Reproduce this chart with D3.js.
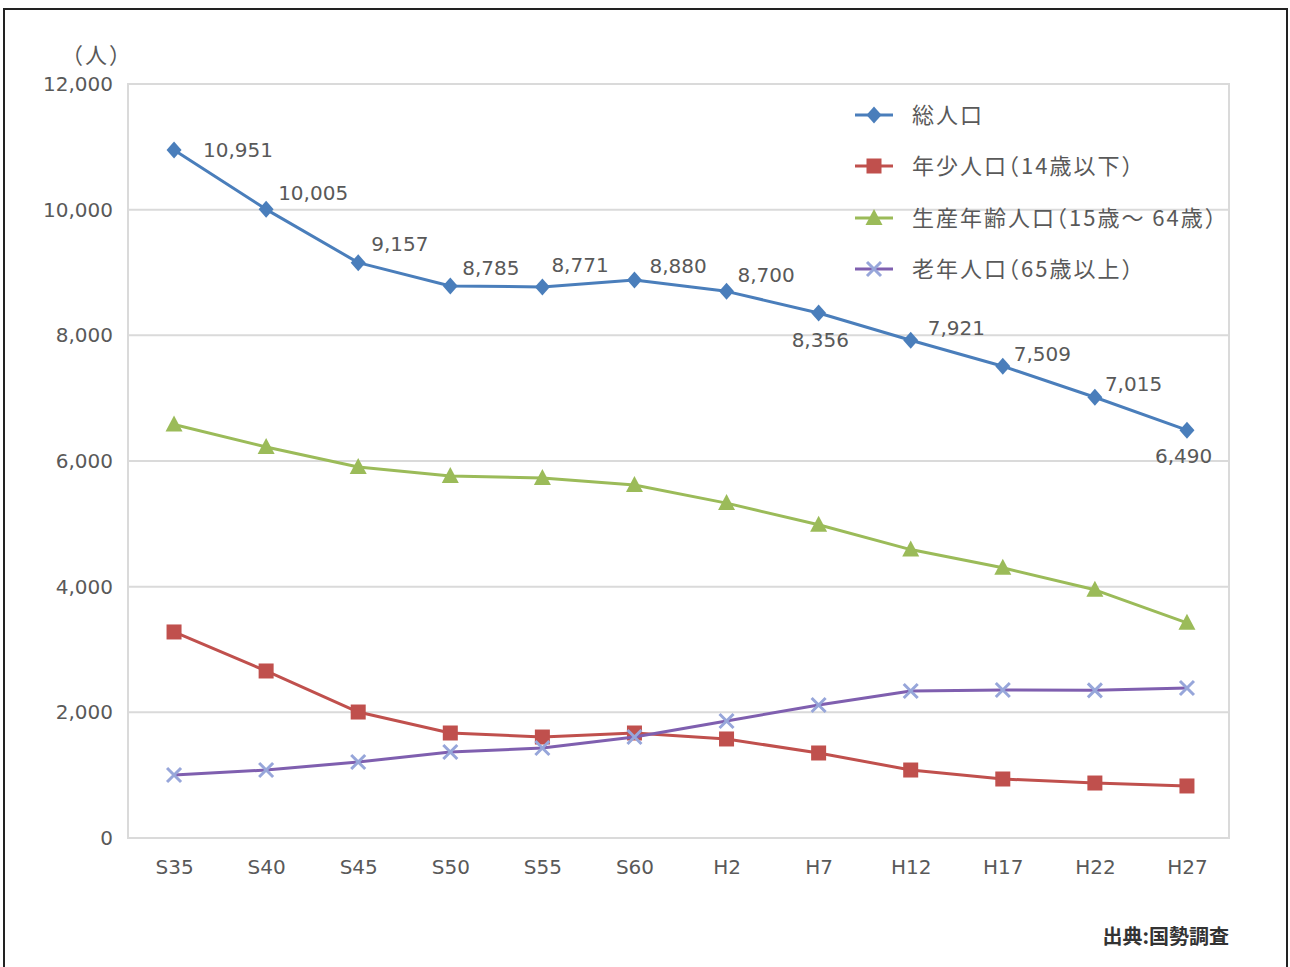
<!DOCTYPE html>
<html>
<head>
<meta charset="utf-8">
<script src="https://cdn.jsdelivr.net/npm/d3@7"></script>
<style>
  html, body { margin: 0; padding: 0; background: #fff; }
  svg { display: block; }
  .cjk { font-feature-settings: "halt"; }
</style>
</head>
<body>
<svg id="chart" width="1290" height="967"></svg>
<script>
// ---- data ----
const categories = ["S35","S40","S45","S50","S55","S60","H2","H7","H12","H17","H22","H27"];
const total    = [10951, 10005, 9157, 8785, 8771, 8880, 8700, 8356, 7921, 7509, 7015, 6490];
const youth    = [3279, 2658, 2005, 1671, 1607, 1671, 1576, 1353, 1082, 939, 875, 828];
const working  = [6580, 6223, 5905, 5761, 5730, 5618, 5330, 4985, 4590, 4300, 3950, 3425];
const elderly  = [1003, 1082, 1210, 1369, 1432, 1607, 1862, 2117, 2340, 2355, 2350, 2387];
const seriesNames = ["総人口", "年少人口（14歳以下）", "生産年齢人口（15歳～ 64歳）", "老年人口（65歳以上）"];
const yTicks = [0, 2000, 4000, 6000, 8000, 10000, 12000];
const yUnit = "（人）";
const sourceText = "出典:国勢調査";
// label placement for total population labels (dx, dy relative to point)
const totalLabelOffsets = [
  [29, 0], [12, -16], [13, -19], [12, -18], [9, -22], [15, -14],
  [11, -16], [-27, 27], [17, -12], [11, -12], [10, -13], [-32, 26]
];

// ---- layout ----
const svg = d3.select("#chart");
const plot = { left: 128, top: 84, right: 1229, bottom: 838 };
const textColor = "#595959";
const numFont = "'DejaVu Sans', sans-serif";
const cjkFont = "'Noto Sans CJK JP', sans-serif";
const colors = ["#4A7EBB", "#C0504D", "#9BBB59", "#7F5FAF"];
const xMarkColor = "#97A6DA";

const x = d3.scalePoint().domain(categories).range([plot.left, plot.right + 4]).padding(0.5);
const y = d3.scaleLinear().domain([0, 12000]).range([plot.bottom, plot.top]);

// outer frame
svg.append("rect").attr("x", 4).attr("y", 9).attr("width", 1283).attr("height", 975)
  .attr("fill", "none").attr("stroke", "#222").attr("stroke-width", 2);

// gridlines
svg.append("g").selectAll("line").data(yTicks).join("line")
  .attr("x1", plot.left).attr("x2", plot.right)
  .attr("y1", d => y(d)).attr("y2", d => y(d))
  .attr("stroke", "#DADADA").attr("stroke-width", 2);
// plot border
svg.append("rect").attr("x", plot.left).attr("y", plot.top)
  .attr("width", plot.right - plot.left).attr("height", plot.bottom - plot.top)
  .attr("fill", "none").attr("stroke", "#DADADA").attr("stroke-width", 2);

// y axis
const yAxis = d3.axisLeft(y).tickValues(yTicks).tickSize(0).tickPadding(15)
  .tickFormat(d3.format(","));
const gy = svg.append("g").attr("transform", `translate(${plot.left},0)`).call(yAxis);
gy.select(".domain").remove();
gy.selectAll("text").attr("fill", textColor).attr("font-size", 20)
  .attr("font-family", numFont);

// x axis
const xAxis = d3.axisBottom(x).tickSize(0).tickPadding(22);
const gx = svg.append("g").attr("transform", `translate(0,${plot.bottom})`).call(xAxis);
gx.select(".domain").remove();
gx.selectAll("text").attr("fill", textColor).attr("font-size", 20)
  .attr("font-family", numFont);

// unit label
svg.append("text").attr("class", "cjk").attr("x", 97).attr("y", 55).attr("dy", "0.35em")
  .attr("text-anchor", "middle").attr("letter-spacing", 2)
  .attr("fill", textColor).attr("font-size", 22).attr("font-family", cjkFont).text(yUnit);

// markers
function diamondPath(cx, cy, r) {
  return `M${cx},${cy - r}L${cx + r - 1},${cy}L${cx},${cy + r}L${cx - r + 1},${cy}Z`;
}
function drawMarker(g, type, cx, cy, color) {
  if (type === "diamond") {
    g.append("path").attr("d", diamondPath(cx, cy, 8.5)).attr("fill", color);
  } else if (type === "square") {
    g.append("rect").attr("x", cx - 7.5).attr("y", cy - 7.5).attr("width", 15).attr("height", 15)
      .attr("fill", color);
  } else if (type === "triangle") {
    g.append("path").attr("d", `M${cx},${cy - 9}L${cx + 8.5},${cy + 7}L${cx - 8.5},${cy + 7}Z`)
      .attr("fill", color);
  } else if (type === "x") {
    const s = 7;
    g.append("path").attr("d", `M${cx - s},${cy - s}L${cx + s},${cy + s}M${cx - s},${cy + s}L${cx + s},${cy - s}`)
      .attr("stroke", xMarkColor).attr("stroke-width", 3).attr("fill", "none");
  }
}

const allSeries = [
  { values: total, color: colors[0], marker: "diamond" },
  { values: youth, color: colors[1], marker: "square" },
  { values: working, color: colors[2], marker: "triangle" },
  { values: elderly, color: colors[3], marker: "x" }
];

const line = d3.line().x((d, i) => x(categories[i])).y(d => y(d));

allSeries.forEach(s => {
  const g = svg.append("g");
  g.append("path").datum(s.values).attr("d", line)
    .attr("fill", "none").attr("stroke", s.color).attr("stroke-width", 3)
    .attr("stroke-linejoin", "round");
  s.values.forEach((v, i) => {
    drawMarker(g, s.marker, x(categories[i]), y(v), s.color);
  });
});

// data labels for total
svg.append("g").selectAll("text").data(total).join("text")
  .attr("x", (d, i) => x(categories[i]) + totalLabelOffsets[i][0])
  .attr("y", (d, i) => y(d) + totalLabelOffsets[i][1])
  .attr("dy", "0.35em")
  .attr("fill", textColor).attr("font-size", 20)
  .attr("font-family", numFont)
  .text(d => d3.format(",")(d));

// legend
const legend = svg.append("g");
const legendY = [115, 166, 218, 269];
seriesNames.forEach((name, i) => {
  const s = allSeries[i];
  const ly = legendY[i];
  legend.append("line").attr("x1", 855).attr("x2", 893).attr("y1", ly).attr("y2", ly)
    .attr("stroke", s.color).attr("stroke-width", 3);
  drawMarker(legend, s.marker, 874, ly, s.color);
  legend.append("text").attr("class", "cjk").attr("x", 912).attr("y", ly).attr("dy", "0.35em")
    .attr("letter-spacing", 2)
    .attr("fill", textColor).attr("font-size", 22).attr("font-family", cjkFont).text(name);
});

// source
svg.append("text").attr("x", 1229).attr("y", 937).attr("dy", "0.35em")
  .attr("text-anchor", "end").attr("fill", "#333").attr("font-size", 20)
  .attr("font-family", cjkFont).attr("font-weight", "bold").text(sourceText);
</script>
</body>
</html>
